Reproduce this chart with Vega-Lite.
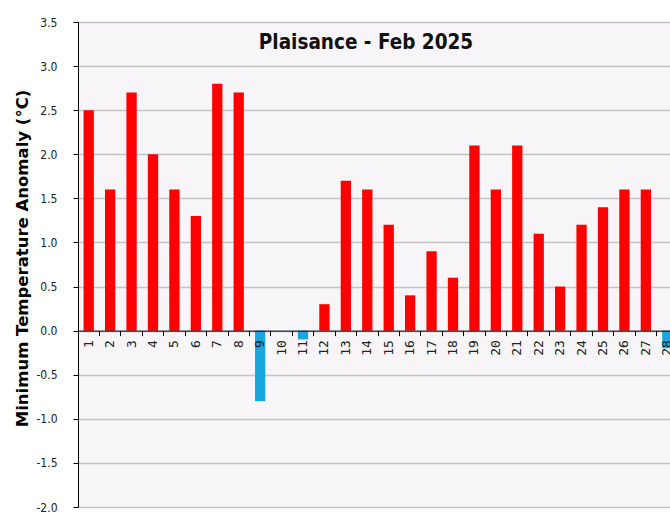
{
  "$schema": "https://vega.github.io/schema/vega-lite/v6.json",
  "width": 592,
  "height": 485,
  "autosize": {"type": "none"},
  "padding": {"left": 78, "top": 22, "right": 0, "bottom": 15},
  "background": "#ffffff",
  "title": {
    "text": "Plaisance - Feb 2025",
    "frame": "group",
    "anchor": "middle",
    "baseline": "top",
    "offset": -37,
    "dx": -8,
    "font": "DejaVu Sans Condensed, sans-serif",
    "fontSize": 20.5,
    "fontWeight": "bold",
    "color": "#111111"
  },
  "config": {
    "view": {"stroke": null, "fill": "#f8f5f9"}
  },
  "data": {
    "values": [
      {"day": 1, "v": 2.5}, {"day": 2, "v": 1.6}, {"day": 3, "v": 2.7}, {"day": 4, "v": 2.0},
      {"day": 5, "v": 1.6}, {"day": 6, "v": 1.3}, {"day": 7, "v": 2.8}, {"day": 8, "v": 2.7},
      {"day": 9, "v": -0.8}, {"day": 10, "v": 0.0}, {"day": 11, "v": -0.1}, {"day": 12, "v": 0.3},
      {"day": 13, "v": 1.7}, {"day": 14, "v": 1.6}, {"day": 15, "v": 1.2}, {"day": 16, "v": 0.4},
      {"day": 17, "v": 0.9}, {"day": 18, "v": 0.6}, {"day": 19, "v": 2.1}, {"day": 20, "v": 1.6},
      {"day": 21, "v": 2.1}, {"day": 22, "v": 1.1}, {"day": 23, "v": 0.5}, {"day": 24, "v": 1.2},
      {"day": 25, "v": 1.4}, {"day": 26, "v": 1.6}, {"day": 27, "v": 1.6}, {"day": 28, "v": -0.2}
    ]
  },
  "mark": {"type": "bar", "width": {"band": 0.48}, "clip": true},
  "encoding": {
    "x": {
      "field": "day",
      "type": "ordinal",
      "scale": {"type": "band", "range": [0, 600], "paddingInner": 0, "paddingOuter": 0},
      "axis": {
        "title": null,
        "offset": -176.36,
        "zindex": 1,
        "bandPosition": 0,
        "domainColor": "#000000",
        "domainWidth": 1,
        "tickColor": "#000000",
        "tickSize": 5,
        "labelAngle": -90,
        "labelPadding": 4,
        "labelFont": "DejaVu Sans Mono",
        "labelFontSize": 13,
        "labelColor": "#222222",
        "grid": false
      }
    },
    "y": {
      "field": "v",
      "type": "quantitative",
      "scale": {"domain": [-2, 3.5], "nice": false, "zero": false},
      "axis": {
        "title": "Minimum Temperature Anomaly (°C)",
        "titleFont": "DejaVu Sans",
        "titleFontWeight": "bold",
        "titleFontSize": 16.5,
        "titleColor": "#000000",
        "titleAngle": -90,
        "titleAlign": "center",
        "titleBaseline": "middle",
        "titleX": -56,
        "titleY": 236,
        "values": [-2, -1.5, -1, -0.5, 0, 0.5, 1, 1.5, 2, 2.5, 3, 3.5],
        "labelExpr": "replace(format(datum.value, '.1f'), '\u2212', '-')",
        "labelFont": "DejaVu Sans Condensed, sans-serif",
        "labelFontSize": 12,
        "labelColor": "#222222",
        "labelPadding": 16,
        "tickColor": "#000000",
        "tickSize": 5,
        "domainColor": "#000000",
        "domainWidth": 1,
        "grid": true,
        "gridColor": "#c4c4c4",
        "gridWidth": 1.5
      }
    },
    "color": {
      "condition": {"test": "datum.v < 0", "value": "#1aa7e0"},
      "value": "#ff0000"
    }
  }
}
